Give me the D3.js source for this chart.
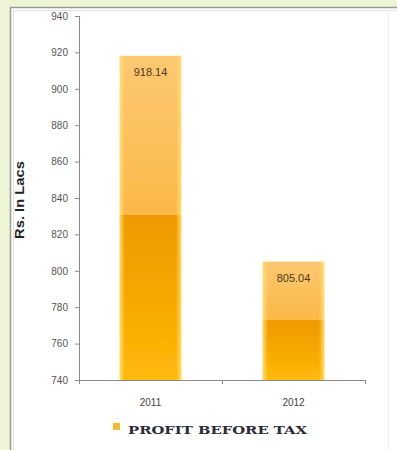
<!DOCTYPE html>
<html>
<head>
<meta charset="utf-8">
<script src="https://cdn.jsdelivr.net/npm/d3@7"></script>
<style>
  html, body { margin: 0; padding: 0; background: #fff; }
  svg { display: block; }
</style>
</head>
<body>
<svg id="chart" width="397" height="450"></svg>
<script>
// Profit before tax, Rs. in Lacs
const years = ["2011", "2012"];
const profitBeforeTax = [918.14, 805.04];
const yTicks = [740, 760, 780, 800, 820, 840, 860, 880, 900, 920, 940];
const seriesName = "PROFIT BEFORE TAX";
const axisTitle = "Rs. In Lacs";

const svg = d3.select("#chart");
const W = 397, H = 450;

// page frame: pale green surround with a grey rule round the white panel
svg.append("rect").attr("width", W).attr("height", H).attr("fill", "#eef5d6");
svg.append("rect").attr("x", 10).attr("y", 7).attr("width", W - 10).attr("height", H - 7)
  .attr("fill", "#ffffff");
svg.append("line").attr("x1", 10.5).attr("x2", 10.5).attr("y1", 7).attr("y2", H)
  .attr("stroke", "#9a9a9a").attr("stroke-width", 1.5);
svg.append("line").attr("x1", 10).attr("x2", W).attr("y1", 7.5).attr("y2", 7.5)
  .attr("stroke", "#9a9a9a").attr("stroke-width", 1.5);
svg.append("line").attr("x1", 13.5).attr("x2", 13.5).attr("y1", 10).attr("y2", H)
  .attr("stroke", "#e2e2e2").attr("stroke-width", 1);
svg.append("line").attr("x1", 13).attr("x2", W).attr("y1", 10.5).attr("y2", 10.5)
  .attr("stroke", "#e2e2e2").attr("stroke-width", 1);
svg.append("line").attr("x1", 388.5).attr("x2", 388.5).attr("y1", 12).attr("y2", H)
  .attr("stroke", "#f0f0ea").attr("stroke-width", 1);

const plot = { left: 79, right: 365, top: 16, bottom: 380 };

const x = d3.scaleBand().domain(years).range([plot.left, plot.right])
  .paddingInner(0.57).paddingOuter(0.285);
const y = d3.scaleLinear().domain([740, 940]).range([plot.bottom, plot.top]);

// bar fills: light upper half, deeper lower half, pale side edges
const defs = svg.append("defs");
const vg = defs.append("linearGradient").attr("id", "barV")
  .attr("x1", 0).attr("x2", 0).attr("y1", 0).attr("y2", 1);
[
  [0, "#fdc873"], [0.49, "#fbb847"], [0.49, "#ef9a00"], [0.75, "#f6a800"], [1, "#ffb90a"]
].forEach(([o, c]) => vg.append("stop").attr("offset", o).attr("stop-color", c));

const hg = defs.append("linearGradient").attr("id", "barH")
  .attr("x1", 0).attr("x2", 1).attr("y1", 0).attr("y2", 0);
[
  [0, "#ffe680", 0.85], [0.09, "#ffd95a", 0.0], [0.91, "#ffd95a", 0.0], [1, "#ffe680", 0.85]
].forEach(([o, c, a]) => hg.append("stop").attr("offset", o).attr("stop-color", c).attr("stop-opacity", a));

const blur = defs.append("filter").attr("id", "soft").attr("x", "-5%").attr("y", "-5%")
  .attr("width", "110%").attr("height", "110%");
blur.append("feGaussianBlur").attr("stdDeviation", 0.6);

const bars = svg.append("g").attr("filter", "url(#soft)");
const data = years.map((yr, i) => ({ year: yr, value: profitBeforeTax[i] }));

bars.selectAll("rect.bar").data(data).join("rect").attr("class", "bar")
  .attr("x", d => x(d.year)).attr("width", x.bandwidth())
  .attr("y", d => y(d.value)).attr("height", d => y(740) - y(d.value))
  .attr("fill", "url(#barV)");
bars.selectAll("rect.edge").data(data).join("rect").attr("class", "edge")
  .attr("x", d => x(d.year)).attr("width", x.bandwidth())
  .attr("y", d => y(d.value)).attr("height", d => y(740) - y(d.value))
  .attr("fill", "url(#barH)");

// value labels just inside the bar tops
svg.selectAll("text.val").data(data).join("text").attr("class", "val")
  .attr("x", d => x(d.year) + x.bandwidth() / 2)
  .attr("y", d => y(d.value) + 20)
  .attr("text-anchor", "middle")
  .attr("font-family", "Liberation Sans, Arial, sans-serif")
  .attr("font-size", 11).attr("fill", "#4a3a1a")
  .text(d => d.value.toFixed(2));

// y axis
const yAxis = svg.append("g").attr("transform", `translate(${plot.left},0)`)
  .call(d3.axisLeft(y).tickValues(yTicks).tickSize(4).tickPadding(7).tickFormat(d3.format("d")));
yAxis.selectAll("text").attr("font-family", "Liberation Sans, Arial, sans-serif")
  .attr("font-size", 10).attr("fill", "#555");
yAxis.selectAll("line, path").attr("stroke", "#8a8a8a");
yAxis.select("path").attr("d", `M0.5,${plot.top}V${plot.bottom}`);

// x axis
const xAxis = svg.append("g").attr("transform", `translate(0,${plot.bottom})`)
  .call(d3.axisBottom(x).tickSize(0).tickPadding(19));
xAxis.select("path").attr("stroke", "#8a8a8a").attr("d", `M${plot.left},0.5H${plot.right}`);
xAxis.selectAll("text").attr("font-family", "Liberation Sans, Arial, sans-serif")
  .attr("font-size", 10).attr("fill", "#444");
// category separators on the x axis
const seps = [plot.left, (plot.left + plot.right) / 2, plot.right];
svg.selectAll("line.sep").data(seps).join("line").attr("class", "sep")
  .attr("x1", d => d + 0.5).attr("x2", d => d + 0.5)
  .attr("y1", plot.bottom).attr("y2", plot.bottom + 4)
  .attr("stroke", "#8a8a8a");

// axis title
svg.append("text")
  .attr("transform", `translate(24,200) rotate(-90)`)
  .attr("text-anchor", "middle")
  .attr("font-family", "Liberation Sans, Arial, sans-serif")
  .attr("font-size", 12).attr("font-weight", "bold").attr("fill", "#222")
  .attr("textLength", 78).attr("lengthAdjust", "spacingAndGlyphs")
  .text(axisTitle);

// legend
svg.append("rect").attr("x", 113).attr("y", 423).attr("width", 7).attr("height", 7)
  .attr("fill", "#f7b731");
svg.append("text").attr("x", 128).attr("y", 434)
  .attr("font-family", "DejaVu Serif, serif")
  .attr("font-size", 11.5).attr("font-weight", "bold").attr("fill", "#2a2a3a")
  .attr("textLength", 179).attr("lengthAdjust", "spacingAndGlyphs")
  .text(seriesName);
</script>
</body>
</html>
